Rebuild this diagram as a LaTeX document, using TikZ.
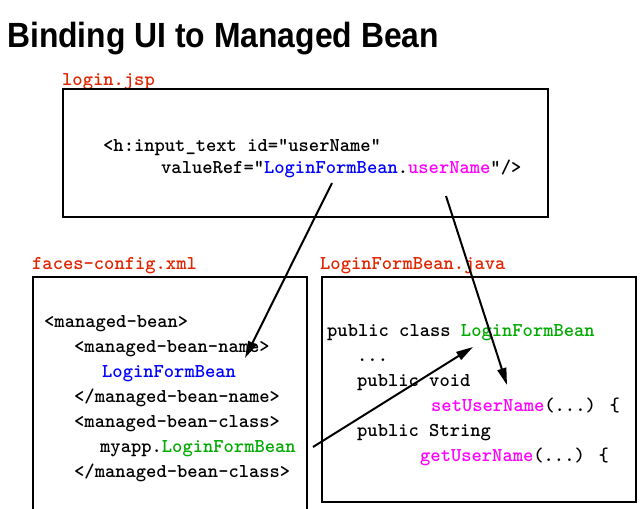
\documentclass[tikz,border=0pt]{standalone}
\usepackage{fontspec}
\usetikzlibrary{arrows.meta}
\newfontfamily\titlefont[FakeStretch=0.91]{Liberation Sans}
\definecolor{filered}{RGB}{225,35,0}
\definecolor{beanblue}{RGB}{0,0,255}
\definecolor{propmagenta}{RGB}{255,0,255}
\definecolor{classgreen}{RGB}{0,170,0}
\newcommand{\codefont}{\fontsize{19.6}{25}\selectfont\ttfamily\bfseries}
\tikzset{
	code/.style={anchor=base west, inner sep=0pt, font=\codefont},
	filename/.style={code, text=filered},
	filebox/.style={line width=1.2pt},
	binding/.style={line width=2pt, -{Triangle[length=17pt,width=9pt]}},
}

\begin{document}
\begin{tikzpicture}[x=1pt,y=-1pt]
\useasboundingbox (0,0) rectangle (641,509);
\path (7,47) node[anchor=base west, inner sep=0pt, font=\titlefont\bfseries\fontsize{35}{40}\selectfont] (title) {Binding UI to Managed Bean};

% login.jsp
\path (62,85) node[filename] (jsplabel) {login.jsp}
		(103,151) node[code] (jspinput) {<h:input\_text id=”userName”}
		(161,173) node[code] (jspvalue) {valueRef=”\textcolor{beanblue}{LoginFormBean}.\textcolor{propmagenta}{userName}”/>}
		;
\draw[filebox] (63,89) rectangle (548,217);

% faces-config.xml
\path (32,269) node[filename] (faceslabel) {faces-config.xml}
		(44,327) node[code] (mbean) {<managed-bean>}
		(74,352) node[code] (mbname) {<managed-bean-name>}
		(102,377) node[code, text=beanblue] (mbnameval) {LoginFormBean}
		(74,402) node[code] (mbnameend) {</managed-bean-name>}
		(74,427) node[code] (mbclass) {<managed-bean-class>}
		(100,452) node[code] (mbclassval) {myapp.\textcolor{classgreen}{LoginFormBean}}
		(74,477) node[code] (mbclassend) {</managed-bean-class>}
		;
\draw[filebox] (33,509) |- (307,277) -- (307,509);

% LoginFormBean.java
\path (320,269) node[filename] (javalabel) {LoginFormBean.java}
		(327,336) node[code] (jclass) {public class \textcolor{classgreen}{LoginFormBean}}
		(357,361) node[code] (jdots) {...}
		(357,386) node[code] (jvoid) {public void}
		(431,411) node[code] (jsetter) {\textcolor{propmagenta}{setUserName}(...) \{}
		(357,436) node[code] (jstring) {public String}
		(420,461) node[code] (jgetter) {\textcolor{propmagenta}{getUserName}(...) \{}
		;
\draw[filebox] (322,277) rectangle (636,502);

% bindings
\coordinate (jspbean) at (332,183);
\coordinate (namebean) at (245,358);
\coordinate (jspprop) at (446,196);
\coordinate (setter) at (507,385);
\coordinate (classbean) at (313,447);
\coordinate (javaclass) at (473,347);
\draw[binding] (jspbean) -- (namebean);
\draw[binding] (jspprop) -- (setter);
\draw[binding] (classbean) -- (javaclass);
\end{tikzpicture}
\end{document}
